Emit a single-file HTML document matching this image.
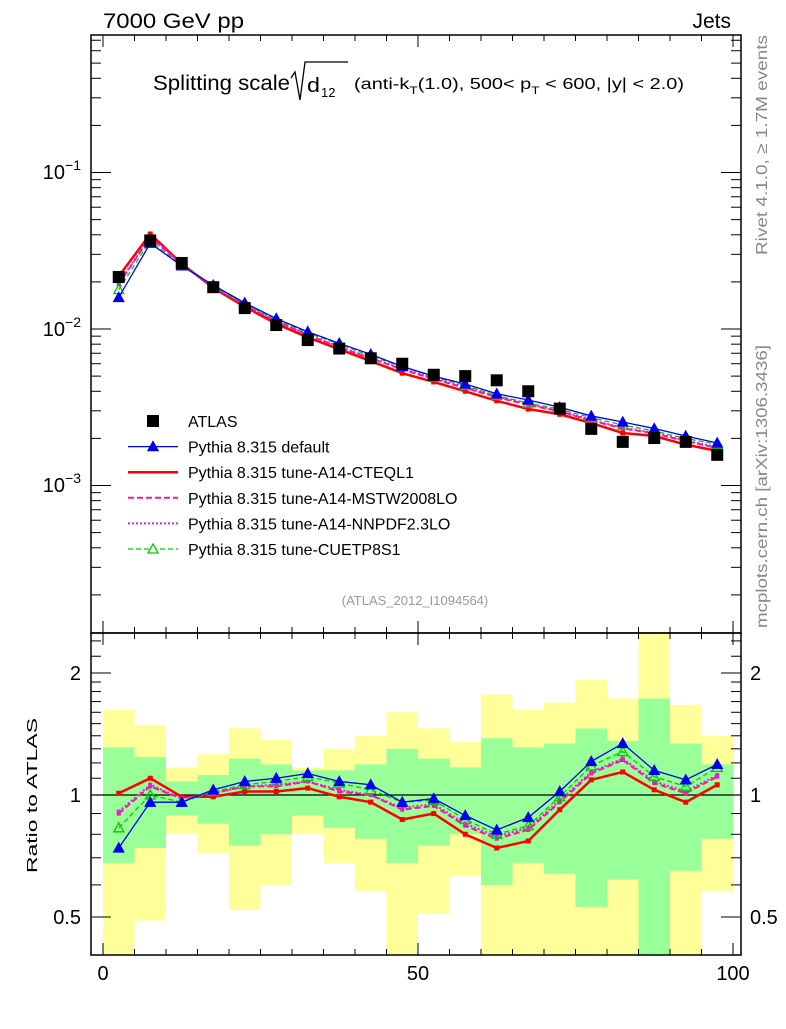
<!DOCTYPE html>
<html><head><meta charset="utf-8"><style>
body{margin:0;background:#fff;width:786px;height:1024px;overflow:hidden}
svg{font-family:"Liberation Sans",sans-serif}
</style></head><body>
<svg id="c" width="786" height="1024" viewBox="0 0 786 1024">
<text x="103" y="28" font-size="21" textLength="141" lengthAdjust="spacingAndGlyphs">7000 GeV pp</text>
<text x="731" y="28" font-size="21" text-anchor="end">Jets</text>
<g>
<text x="153" y="90" font-size="21" textLength="137" lengthAdjust="spacingAndGlyphs">Splitting scale</text>
<path d="M291,78 L295,72 L300,100 L305,62 L348,62" fill="none" stroke="#000" stroke-width="1.3"/>
<text x="307" y="92" font-size="20" textLength="13" lengthAdjust="spacingAndGlyphs">d</text><text x="321" y="97" font-size="13">12</text>
<text x="354" y="89" font-size="16" textLength="330" lengthAdjust="spacingAndGlyphs">(anti-k<tspan font-size="11" dy="5">T</tspan><tspan dy="-5">(1.0), 500&lt; p</tspan><tspan font-size="11" dy="5">T</tspan><tspan dy="-5"> &lt; 600, |y| &lt; 2.0)</tspan></text>
</g>
<text transform="translate(767,255) rotate(-90)" font-size="16" fill="#888" textLength="220" lengthAdjust="spacingAndGlyphs">Rivet 4.1.0, ≥ 1.7M events</text>
<text transform="translate(767,628) rotate(-90)" font-size="16" fill="#888" textLength="283" lengthAdjust="spacingAndGlyphs">mcplots.cern.ch [arXiv:1306.3436]</text>
<text x="415" y="605" font-size="13" fill="#999" text-anchor="middle">(ATLAS_2012_I1094564)</text>
<text transform="translate(37,873) rotate(-90)" font-size="15" textLength="155" lengthAdjust="spacingAndGlyphs">Ratio to ATLAS</text>
</svg>
<script>
const centers=[2.5,7.5,12.5,17.5,22.5,27.5,32.5,37.5,42.5,47.5,52.5,57.5,62.5,67.5,72.5,77.5,82.5,87.5,92.5,97.5];
const atlas=[0.0215,0.0368,0.0264,0.0185,0.0136,0.0106,0.0085,0.0075,0.0065,0.0060,0.0051,0.0050,0.0047,0.0040,0.0031,0.0023,0.0019,0.00201,0.0019,0.00157];
const rDefault=[0.74,0.96,0.96,1.03,1.08,1.10,1.13,1.08,1.06,0.96,0.98,0.89,0.82,0.88,1.02,1.21,1.34,1.15,1.09,1.19];
const rCTEQ=[1.01,1.10,0.99,0.99,1.02,1.02,1.04,0.99,0.96,0.87,0.90,0.80,0.74,0.77,0.92,1.09,1.14,1.03,0.96,1.06];
const rMSTW=[0.90,1.05,0.98,1.01,1.05,1.05,1.08,1.02,1.00,0.92,0.94,0.84,0.78,0.82,0.96,1.13,1.22,1.07,1.01,1.11];
const rNNPDF=[0.91,1.06,0.98,1.01,1.05,1.06,1.08,1.03,1.00,0.93,0.95,0.85,0.79,0.83,0.97,1.14,1.23,1.08,1.02,1.12];
const rCUETP=[0.83,1.00,0.96,1.02,1.06,1.08,1.11,1.07,1.03,0.96,0.97,0.87,0.80,0.84,0.99,1.18,1.28,1.11,1.05,1.17];
const yelUp=[1.62,1.49,1.17,1.26,1.46,1.37,1.17,1.30,1.40,1.60,1.46,1.35,1.77,1.62,1.69,1.92,1.73,3,1.67,1.40];
const grnUp=[1.31,1.24,1.08,1.12,1.23,1.19,1.15,1.15,1.19,1.30,1.23,1.17,1.38,1.31,1.34,1.46,1.36,1.73,1.34,1.19];
const grnDn=[0.68,0.74,0.89,0.85,0.75,0.80,0.89,0.83,0.78,0.68,0.75,0.80,0.60,0.68,0.64,0.53,0.62,0.3,0.65,0.78];
const yelDn=[0.3,0.49,0.80,0.72,0.52,0.60,0.80,0.68,0.58,0.3,0.51,0.63,0.3,0.3,0.3,0.3,0.3,0.3,0.3,0.58];
const xTicks=[0,50,100];
const binW=5;

const NS='http://www.w3.org/2000/svg';
const svg=document.getElementById('c');
const L=91,R=741,T=35,MB=633,RB=955;
const X=v=>103+v*6.3;
const Y=v=>329-156.5*Math.log10(v/0.01);
const YR=r=>795-122*Math.log2(r);
function el(tag,attrs,parent){const e=document.createElementNS(NS,tag);for(const k in attrs)e.setAttribute(k,attrs[k]);(parent||svg).appendChild(e);return e;}
const cl=el('clipPath',{id:'cm'});el('rect',{x:L,y:T,width:R-L,height:MB-T},cl);
const cr=el('clipPath',{id:'cr'});el('rect',{x:L,y:MB,width:R-L,height:RB-MB},cr);

const bands=el('g',{'clip-path':'url(#cr)'});


centers.forEach((c,i)=>{
  const x0=X(c-binW/2),w=X(c+binW/2)-x0;
  const ry=el('rect',{x:x0,y:YR(yelUp[i]),width:w,height:YR(yelDn[i])-YR(yelUp[i]),fill:'#ffff99'},bands);
  
  
  const rg=el('rect',{x:x0,y:YR(grnUp[i]),width:w,height:YR(grnDn[i])-YR(grnUp[i]),fill:'#99ff99'},bands);
  
  
});
el('line',{x1:L,x2:R,y1:YR(1),y2:YR(1),stroke:'#000','stroke-width':1.3});

function tri(g,x,y,fill,stroke){el('path',{d:`M${x},${y-5} L${x+5},${y+4} L${x-5},${y+4} Z`,fill:fill,stroke:stroke,'stroke-width':1.3},g);}
const series=[
 {name:'cteql1',r:rCTEQ,c:'#ff0000',w:2.5,d:'',m:'sq'},
 {name:'mstw2008lo',r:rMSTW,c:'#ff1493',w:2,d:'6,3',m:'sqs'},
 {name:'nnpdf23lo',r:rNNPDF,c:'#e020e0',w:2,d:'2,2',m:'sqs'},
 {name:'cuetp8s1',r:rCUETP,c:'#00cc00',w:1.3,d:'5,3',m:'otri'},
 {name:'default',r:rDefault,c:'#0000ee',w:1.3,d:'',m:'tri'}
];
function drawSeries(s,fy,vals,clip,suffix){
  const g=el('g',{'clip-path':clip});
  
  
  const pts=centers.map((c,i)=>X(c)+','+fy(vals[i])).join(' ');
  el('polyline',{points:pts,fill:'none',stroke:s.c,'stroke-width':s.w,'stroke-dasharray':s.d},g);
  centers.forEach((c,i)=>{const x=X(c),y=fy(vals[i]);
    if(s.m==='tri')tri(g,x,y,s.c,s.c);
    else if(s.m==='otri')tri(g,x,y,'none',s.c);
    else if(s.m==='sq')el('rect',{x:x-2.5,y:y-2.5,width:5,height:5,fill:s.c},g);
    else el('rect',{x:x-2,y:y-2,width:4,height:4,fill:s.c},g);
  });
}
series.forEach(s=>{
  drawSeries(s,Y,s.r.map((r,i)=>r*atlas[i]),'url(#cm)','-main');
  drawSeries(s,YR,s.r,'url(#cr)','-ratio');
});
const ga=el('g',{});


centers.forEach((c,i)=>{el('rect',{x:X(c)-6,y:Y(atlas[i])-6,width:12,height:12,fill:'#000'},ga);});

el('rect',{x:L,y:T,width:R-L,height:MB-T,fill:'none',stroke:'#000','stroke-width':1.5});
el('rect',{x:L,y:MB,width:R-L,height:RB-MB,fill:'none',stroke:'#000','stroke-width':1.5});
for(let v=0;v<=100;v+=5){const x=X(v);const big=xTicks.includes(v);const len=big?12:6;
  [[T,1],[MB,-1],[MB,1],[RB,-1]].forEach(([y,d])=>el('line',{x1:x,x2:x,y1:y,y2:y+d*len,stroke:'#000','stroke-width':1}));}
xTicks.forEach(v=>{const t=el('text',{x:X(v),y:980,'font-size':20,'text-anchor':'middle'});t.textContent=v;
  
  });
for(let e=-4;e<=-1;e++){for(let m=1;m<=9;m++){const v=m*Math.pow(10,e);const y=Y(v);if(y<T||y>MB)continue;const len=m===1?20:10;
  el('line',{x1:L,x2:L+len,y1:y,y2:y,stroke:'#000'});el('line',{x1:R,x2:R-len,y1:y,y2:y,stroke:'#000'});}}
[[-1,172],[-2,329],[-3,485]].forEach(([e,y])=>{const t=el('text',{x:81,y:y+7,'font-size':20,'text-anchor':'end'});
  t.innerHTML='10<tspan font-size="14" dy="-9">'+(e===-1?'−1':e===-2?'−2':'−3')+'</tspan>';
  
  });
[0.4,0.6,0.7,0.8,0.9,1.1,1.2,1.3,1.4,1.5,1.6,1.7,1.8,1.9,2.2,2.4].forEach(r=>{const y=YR(r);if(y<MB||y>RB)return;
  el('line',{x1:L,x2:L+10,y1:y,y2:y,stroke:'#000'});el('line',{x1:R,x2:R-10,y1:y,y2:y,stroke:'#000'});});
[[0.5,'0.5'],[1,'1'],[2,'2']].forEach(([r,s])=>{const y=YR(r);
  el('line',{x1:L,x2:L+20,y1:y,y2:y,stroke:'#000'});el('line',{x1:R,x2:R-20,y1:y,y2:y,stroke:'#000'});
  const t=el('text',{x:81,y:y+7,'font-size':20,'text-anchor':'end'});t.textContent=s;
  
  
  const t2=el('text',{x:750,y:y+7,'font-size':20});t2.textContent=s;
  
  });
const leg=el('g',{});


const legItems=[['ATLAS',null],['Pythia 8.315 default',series[4]],['Pythia 8.315 tune-A14-CTEQL1',series[0]],['Pythia 8.315 tune-A14-MSTW2008LO',series[1]],['Pythia 8.315 tune-A14-NNPDF2.3LO',series[2]],['Pythia 8.315 tune-CUETP8S1',series[3]]];
legItems.forEach(([txt,s],i)=>{const y=421+i*25.6;
  const g=el('g',{},leg);
  
  
  if(!s)el('rect',{x:147,y:y-6,width:12,height:12,fill:'#000'},g);
  else{el('line',{x1:128,x2:178,y1:y,y2:y,stroke:s.c,'stroke-width':s.w,'stroke-dasharray':s.d},g);
    if(s.m==='tri')tri(g,153,y,s.c,s.c);else if(s.m==='otri')tri(g,153,y,'#fff',s.c);}
  const t=el('text',{x:188,y:y+6,'font-size':16},g);t.textContent=txt;});
</script>
</body></html>
